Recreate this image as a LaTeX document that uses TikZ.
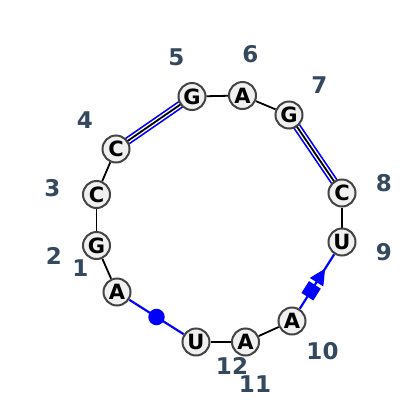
\documentclass[tikz,border=0pt]{standalone}
\usepackage{fontspec}
\setmainfont{DejaVu Sans}
\usetikzlibrary{shapes.geometric,backgrounds}
\definecolor{nb}{RGB}{68,68,68}
\definecolor{nf}{RGB}{240,240,240}
\definecolor{lab}{RGB}{52,73,94}
\begin{document}
\begin{tikzpicture}[x=1pt,y=-1pt,
  nt/.style={circle,draw=nb,fill=nf,line width=2pt,minimum size=27pt,inner sep=0pt,
    font=\fontsize{21}{21}\selectfont\bfseries},
  lb/.style={text=lab,font=\fontsize{23}{23}\selectfont\bfseries,inner sep=0pt},
  bbone/.style={line width=1.8pt,black},
  pairline/.style={line width=1.8pt,black,
    preaction={draw=blue,line width=8pt},
    preaction={draw=white,line width=4.6pt}},
  bluel/.style={line width=2.2pt,blue},
  dotmark/.style={circle,fill=blue,inner sep=0pt,minimum size=16.5pt},
  sqmark/.style={rectangle,fill=blue,inner sep=0pt,minimum size=14pt},
  trimark/.style={isosceles triangle,fill=blue,inner sep=0pt,minimum height=16pt,minimum width=16pt,isosceles triangle stretches}
]
\useasboundingbox (0,0) rectangle (400,400);
\node[nt] (n1) at (117,292) {A};
\node[nt] (n2) at (96.5,245.5) {G};
\node[nt] (n3) at (96.5,194.5) {C};
\node[nt] (n4) at (116,149) {C};
\node[nt] (n5) at (192,96.5) {G};
\node[nt] (n6) at (242.5,95.5) {A};
\node[nt] (n7) at (289,115) {G};
\node[nt] (n8) at (342,193) {C};
\node[nt] (n9) at (342,242) {U};
\node[nt] (n10) at (292,321) {A};
\node[nt] (n11) at (245.5,342) {A};
\node[nt] (n12) at (196,342) {U};
\begin{scope}[on background layer]
\draw[bbone] (n1) -- (n2);
\draw[bbone] (n2) -- (n3);
\draw[bbone] (n3) -- (n4);
\draw[pairline] (n4.center) -- (n5.center);
\draw[bbone] (n5) -- (n6);
\draw[bbone] (n6) -- (n7);
\draw[pairline] (n7.center) -- (n8.center);
\draw[bbone] (n8) -- (n9);
\draw[bbone] (n10) -- (n11);
\draw[bbone] (n11) -- (n12);
\draw[bluel] (n1) -- node[dotmark] (m1) {} (n12);
\draw[bluel] (n10) -- node[pos=0.33,sloped,sqmark] (m2) {} node[pos=0.78,sloped,trimark,anchor=apex] (m3) {} (n9);
\end{scope}
\node[lb] (l1) at (80.5,268.5) {1};
\node[lb] (l2) at (54,256) {2};
\node[lb] (l3) at (52.5,188.5) {3};
\node[lb] (l4) at (85,120) {4};
\node[lb] (l5) at (176.5,57.5) {5};
\node[lb] (l6) at (250.5,54) {6};
\node[lb] (l7) at (319.5,85) {7};
\node[lb] (l8) at (384,183.5) {8};
\node[lb] (l9) at (384,252.5) {9};
\node[lb] (l10) at (322.5,351.5) {10};
\node[lb] (l11) at (255,384) {11};
\node[lb] (l12) at (232,366) {12};
\end{tikzpicture}
\end{document}
